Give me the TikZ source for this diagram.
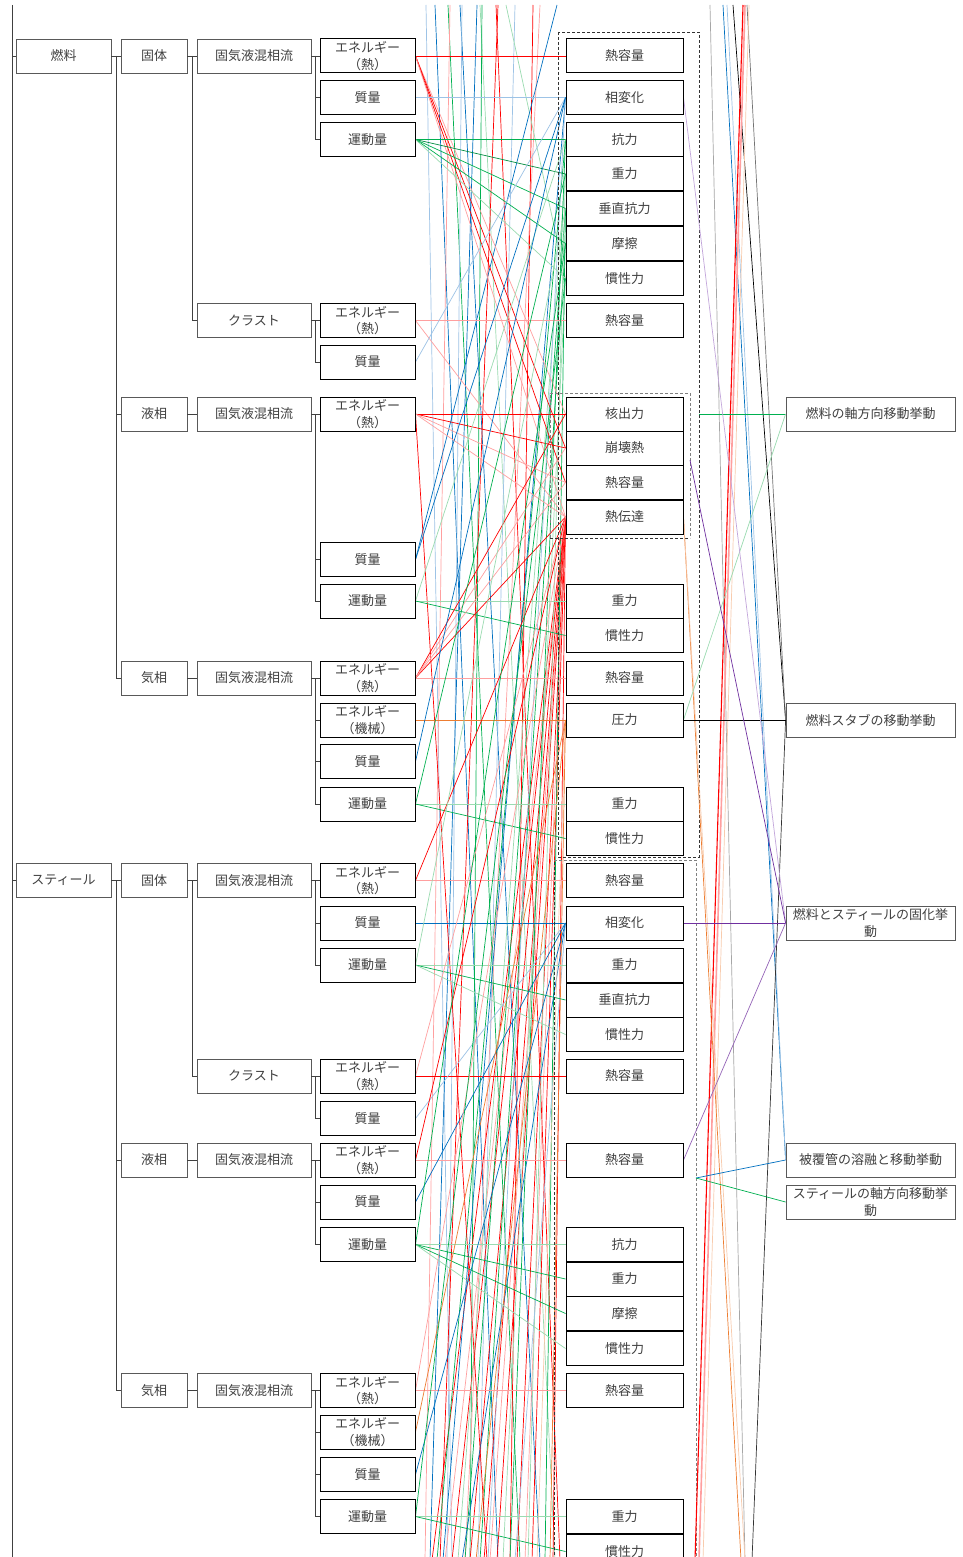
\documentclass[tikz,border=0pt]{standalone}
\usepackage{fontspec}
\usetikzlibrary{calc,backgrounds}
\newfontfamily\jp{Noto Sans CJK JP}
\definecolor{cRed}{HTML}{FF0000}
\definecolor{cPink}{HTML}{FF9F9F}
\definecolor{cGreen}{HTML}{00B050}
\definecolor{cLGreen}{HTML}{9ADBB0}
\definecolor{cBlue}{HTML}{0070C0}
\definecolor{cLBlue}{HTML}{9DC3E6}
\definecolor{cOrange}{HTML}{ED7D31}
\definecolor{cLOrange}{HTML}{F8CBAD}
\definecolor{cPurple}{HTML}{7030A0}
\definecolor{cLPurple}{HTML}{C3A6DB}
\definecolor{cGray}{HTML}{A6A6A6}
\definecolor{cText}{HTML}{404040}
\begin{document}
\begin{tikzpicture}[x=1pt,y=-1pt,
  box/.style={draw=black, line width=0.8pt, fill=white, minimum height=34pt,
    inner sep=1pt, font=\jp\fontsize{13}{16.5}\selectfont, text=cText, align=center},
  c1/.style={box, minimum width=95pt, draw=black!65},
  c2/.style={box, minimum width=66pt, draw=black!65},
  c3/.style={box, minimum width=114pt, draw=black!65},
  c4/.style={box, minimum width=95pt, line width=1pt},
  c5/.style={box, minimum width=117pt, line width=1pt},
  c6/.style={box, minimum width=169pt, draw=black!65},
  tree/.style={draw=black!75, line width=0.8pt},
  ln/.style={line width=0.7pt},
  frame/.style={dashed, dash pattern=on 3pt off 2pt, line width=0.7pt}
]
\useasboundingbox (0,0) rectangle (962,1557);

% ---------- fuel branch ----------
\node[c1] (fuel) at (63.5,56) {燃料};
\node[c2] (fS)  at (154,56) {固体};
\node[c3] (fSm) at (254,56) {固気液混相流};
\node[c4] (fSe) at (367.5,56) {エネルギー\\（熱）};
\node[c4] (fSq) at (367.5,97.5) {質量};
\node[c4] (fSp) at (367.5,139.5) {運動量};
\node[c3] (fC)  at (254,320.5) {クラスト};
\node[c4] (fCe) at (367.5,320.5) {エネルギー\\（熱）};
\node[c4] (fCq) at (367.5,362) {質量};
\node[c2] (fL)  at (154,414) {液相};
\node[c3] (fLm) at (254,414) {固気液混相流};
\node[c4] (fLe) at (367.5,414) {エネルギー\\（熱）};
\node[c4] (fLq) at (367.5,559.5) {質量};
\node[c4] (fLp) at (367.5,601) {運動量};
\node[c2] (fG)  at (154,678) {気相};
\node[c3] (fGm) at (254,678) {固気液混相流};
\node[c4] (fGe) at (367.5,678) {エネルギー\\（熱）};
\node[c4] (fGk) at (367.5,720) {エネルギー\\（機械）};
\node[c4] (fGq) at (367.5,761.5) {質量};
\node[c4] (fGp) at (367.5,804) {運動量};

% ---------- steel branch ----------
\node[c1] (steel) at (63.5,880.5) {スティール};
\node[c2] (sS)  at (154,880.5) {固体};
\node[c3] (sSm) at (254,880.5) {固気液混相流};
\node[c4] (sSe) at (367.5,880.5) {エネルギー\\（熱）};
\node[c4] (sSq) at (367.5,923) {質量};
\node[c4] (sSp) at (367.5,965) {運動量};
\node[c3] (sC)  at (254,1076) {クラスト};
\node[c4] (sCe) at (367.5,1076) {エネルギー\\（熱）};
\node[c4] (sCq) at (367.5,1118.5) {質量};
\node[c2] (sL)  at (154,1160) {液相};
\node[c3] (sLm) at (254,1160) {固気液混相流};
\node[c4] (sLe) at (367.5,1160) {エネルギー\\（熱）};
\node[c4] (sLq) at (367.5,1202) {質量};
\node[c4] (sLp) at (367.5,1244.5) {運動量};
\node[c2] (sG)  at (154,1390.5) {気相};
\node[c3] (sGm) at (254,1390.5) {固気液混相流};
\node[c4] (sGe) at (367.5,1390.5) {エネルギー\\（熱）};
\node[c4] (sGk) at (367.5,1432) {エネルギー\\（機械）};
\node[c4] (sGq) at (367.5,1474.5) {質量};
\node[c4] (sGp) at (367.5,1516.5) {運動量};

% ---------- phenomena column ----------
\node[c5] (rA1) at (624.5,56) {熱容量};
\node[c5] (rA2) at (624.5,97.5) {相変化};
\node[c5] (rA3) at (624.5,139.5) {抗力};
\node[c5] (rA4) at (624.5,174) {重力};
\node[c5] (rA5) at (624.5,208.5) {垂直抗力};
\node[c5] (rA6) at (624.5,243.5) {摩擦};
\node[c5] (rA7) at (624.5,278.5) {慣性力};
\node[c5] (rA8) at (624.5,320.5) {熱容量};
\node[c5] (rB1) at (624.5,414) {核出力};
\node[c5] (rB2) at (624.5,448) {崩壊熱};
\node[c5] (rB3) at (624.5,482.5) {熱容量};
\node[c5] (rB4) at (624.5,517) {熱伝達};
\node[c5] (rB5) at (624.5,601) {重力};
\node[c5] (rB6) at (624.5,635.5) {慣性力};
\node[c5] (rB7) at (624.5,678) {熱容量};
\node[c5] (rB8) at (624.5,720) {圧力};
\node[c5] (rB9) at (624.5,804) {重力};
\node[c5] (rB10) at (624.5,838.5) {慣性力};
\node[c5] (rC1) at (624.5,880.5) {熱容量};
\node[c5] (rC2) at (624.5,923) {相変化};
\node[c5] (rC3) at (624.5,965) {重力};
\node[c5] (rC4) at (624.5,1000) {垂直抗力};
\node[c5] (rC5) at (624.5,1034.5) {慣性力};
\node[c5] (rC6) at (624.5,1076) {熱容量};
\node[c5] (rC7) at (624.5,1160) {熱容量};
\node[c5] (rC8) at (624.5,1244.5) {抗力};
\node[c5] (rC9) at (624.5,1279) {重力};
\node[c5] (rC10) at (624.5,1313.5) {摩擦};
\node[c5] (rC11) at (624.5,1348.5) {慣性力};
\node[c5] (rC12) at (624.5,1390.5) {熱容量};
\node[c5] (rC13) at (624.5,1516.5) {重力};
\node[c5] (rC14) at (624.5,1551.5) {慣性力};

% ---------- behaviour column ----------
\node[c6] (o1) at (870.5,414) {燃料の軸方向移動挙動};
\node[c6] (o2) at (870.5,720) {燃料スタブの移動挙動};
\node[c6] (o3) at (870.5,923) {燃料とスティールの固化挙\\動};
\node[c6] (o4) at (870.5,1160) {被覆管の溶融と移動挙動};
\node[c6] (o5) at (870.5,1202) {スティールの軸方向移動挙\\動};

% ---------- tree connectors ----------
\coordinate (trunkTop) at (12,5);
\coordinate (trunkBot) at (12,1557);
\draw[tree] (trunkTop) -- (trunkBot);
\draw[tree] (fuel.west -| trunkTop) -- (fuel.west);
\draw[tree] (steel.west -| trunkTop) -- (steel.west);

\draw[tree] (fuel.east) -- (fS.west);
\draw[tree] ($(fuel.east)!0.5!(fS.west)$) |- (fL.west);
\draw[tree] ($(fuel.east)!0.5!(fS.west)$) |- (fG.west);
\draw[tree] (fS.east) -- (fSm.west);
\draw[tree] ($(fS.east)!0.5!(fSm.west)$) |- (fC.west);
\draw[tree] (fL.east) -- (fLm.west);
\draw[tree] (fG.east) -- (fGm.west);
\draw[tree] (fSm.east) -- (fSe.west);
\foreach \t in {fSq,fSp} \draw[tree] ($(fSm.east)!0.5!(fSe.west)$) |- (\t.west);
\draw[tree] (fC.east) -- (fCe.west);
\draw[tree] ($(fC.east)!0.5!(fCe.west)$) |- (fCq.west);
\draw[tree] (fLm.east) -- (fLe.west);
\foreach \t in {fLq,fLp} \draw[tree] ($(fLm.east)!0.5!(fLe.west)$) |- (\t.west);
\draw[tree] (fGm.east) -- (fGe.west);
\foreach \t in {fGk,fGq,fGp} \draw[tree] ($(fGm.east)!0.5!(fGe.west)$) |- (\t.west);

\draw[tree] (steel.east) -- (sS.west);
\draw[tree] ($(steel.east)!0.5!(sS.west)$) |- (sL.west);
\draw[tree] ($(steel.east)!0.5!(sS.west)$) |- (sG.west);
\draw[tree] (sS.east) -- (sSm.west);
\draw[tree] ($(sS.east)!0.5!(sSm.west)$) |- (sC.west);
\draw[tree] (sL.east) -- (sLm.west);
\draw[tree] (sG.east) -- (sGm.west);
\draw[tree] (sSm.east) -- (sSe.west);
\foreach \t in {sSq,sSp} \draw[tree] ($(sSm.east)!0.5!(sSe.west)$) |- (\t.west);
\draw[tree] (sC.east) -- (sCe.west);
\draw[tree] ($(sC.east)!0.5!(sCe.west)$) |- (sCq.west);
\draw[tree] (sLm.east) -- (sLe.west);
\foreach \t in {sLq,sLp} \draw[tree] ($(sLm.east)!0.5!(sLe.west)$) |- (\t.west);
\draw[tree] (sGm.east) -- (sGe.west);
\foreach \t in {sGk,sGq,sGp} \draw[tree] ($(sGm.east)!0.5!(sGe.west)$) |- (\t.west);

\begin{scope}[on background layer]
\fill[white] (0,0) rectangle (962,1557);

% pass-through lines of the crossing band
\foreach \n/\a/\b/\c in {1/426/452/cLBlue, 2/435/498/cBlue, 3/448/520/cGreen,
    4/450/425/cPink, 5/460/540/cBlue, 6/462/447/cLBlue, 7/477/430/cBlue,
    8/480/555/cLGreen, 9/482/470/cGreen, 10/496/560/cRed, 11/498/440/cRed,
    12/533/510/cRed, 13/540/465/cPink, 14/515/478/cLBlue} {
  \coordinate (top\n) at (\a,5);
  \coordinate (btm\n) at (\b,1560);
  \draw[ln,\c] (top\n) -- (btm\n);
}
\coordinate (top15) at (506,5);
\draw[ln,cLGreen] (top15) -- (rA7.west);
\coordinate (top16) at (557,5);
\draw[ln,cBlue] (top16) -- (fLq.east);

% lines rising from below the sheet
\foreach \n/\x/\c/\t in {1/432/cRed/rB4, 2/445/cPink/rB4, 3/452/cRed/rB4,
    4/470/cRed/rB4, 5/484/cRed/rB4, 6/490/cPink/rB4, 7/497/cRed/rB4,
    8/517/cRed/rB4, 9/525/cPink/rB4, 10/532/cRed/rB4, 11/553/cRed/rB4,
    12/437/cGreen/rA3, 13/458/cLGreen/rA4, 14/465/cGreen/rA5, 15/480/cGreen/rA6,
    16/503/cLGreen/rA7, 17/510/cGreen/rA3, 18/528/cLGreen/rA4, 19/545/cGreen/rA5,
    20/443/cBlue/rA2, 21/488/cLBlue/rA2, 22/462/cBlue/rC2, 23/515/cLBlue/rC2,
    24/476/cOrange/rB8, 25/537/cLOrange/rB8, 26/550/cOrange/rB8} {
  \coordinate (bot\n) at (\x,1560);
  \draw[ln,\c] (bot\n) -- (\t.west);
}

% fuel quantities to phenomena
\draw[ln,cRed] (fSe.east) -- (rA1.west);
\draw[ln,cPink] (fSe.east) -- (rB1.west);
\draw[ln,cRed] (fSe.east) -- (rB2.west);
\draw[ln,cRed] (fSe.east) -- (rB3.west);
\draw[ln,cPink] (fSe.east) -- (rB4.west);
\draw[ln,cLBlue] (fSq.east) -- (rA2.west);
\draw[ln,cGreen] (fSp.east) -- (rA3.west);
\draw[ln,cGreen!80!black] (fSp.east) -- (rA4.west);
\draw[ln,cGreen] (fSp.east) -- (rA5.west);
\draw[ln,cGreen] (fSp.east) -- (rA6.west);
\draw[ln,cLGreen] (fSp.east) -- (rA7.west);
\draw[ln,cPink] (fCe.east) -- (rA8.west);
\draw[ln,cPink] (fCe.east) -- (rB4.west);
\draw[ln,cLBlue] (fCq.east) -- (rA2.west);
\draw[ln,cRed] (fLe.east) -- (rB1.west);
\draw[ln,cRed] (fLe.east) -- (rB2.west);
\draw[ln,cPink] (fLe.east) -- (rB3.west);
\draw[ln,cPink] (fLe.east) -- (rB4.west);
\coordinate (btmLe) at (487,1560);
\draw[ln,cRed] (fLe.east) -- (btmLe);
\draw[ln,cBlue] (fLq.east) -- (rA2.west);
\draw[ln,cLGreen] (fLp.east) -- (rB5.west);
\draw[ln,cGreen] (fLp.east) -- (rB6.west);
\draw[ln,cLGreen] (fLp.east) -- (rA3.west);
\draw[ln,cPink] (fGe.east) -- (rB7.west);
\draw[ln,cRed] (fGe.east) -- (rB1.west);
\draw[ln,cPink] (fGe.east) -- (rB2.west);
\draw[ln,cRed] (fGe.east) -- (rB4.west);
\draw[ln,cPink] (fGe.east) -- (rB3.west);
\draw[ln,cOrange] (fGk.east) -- (rB8.west);
\draw[ln,cBlue] (fGq.east) -- (rA2.west);
\draw[ln,cLGreen] (fGp.east) -- (rB9.west);
\draw[ln,cGreen] (fGp.east) -- (rB10.west);
\draw[ln,cGreen] (fGp.east) -- (rA4.west);

% steel quantities to phenomena
\draw[ln,cPink] (sSe.east) -- (rC1.west);
\draw[ln,cRed] (sSe.east) -- (rB4.west);
\draw[ln,cBlue] (sSq.east) -- (rC2.west);
\draw[ln,cLGreen] (sSp.east) -- (rC3.west);
\draw[ln,cGreen] (sSp.east) -- (rC4.west);
\draw[ln,cLGreen] (sSp.east) -- (rC5.west);
\draw[ln,cLGreen] (sSp.east) -- (rA5.west);
\draw[ln,cRed] (sCe.east) -- (rC6.west);
\draw[ln,cPink] (sCe.east) -- (rB4.west);
\draw[ln,cLBlue] (sCq.east) -- (rC2.west);
\draw[ln,cPink] (sLe.east) -- (rC7.west);
\draw[ln,cRed] (sLe.east) -- (rB4.west);
\draw[ln,cBlue] (sLq.east) -- (rC2.west);
\draw[ln,cLGreen] (sLp.east) -- (rC8.west);
\draw[ln,cGreen] (sLp.east) -- (rC9.west);
\draw[ln,cGreen] (sLp.east) -- (rC10.west);
\draw[ln,cLGreen] (sLp.east) -- (rC11.west);
\draw[ln,cGreen] (sLp.east) -- (rA6.west);
\draw[ln,cPink] (sGe.east) -- (rC12.west);
\draw[ln,cPink] (sGe.east) -- (rB4.west);
\draw[ln,cOrange] (sGk.east) -- (rB8.west);
\draw[ln,cBlue] (sGq.east) -- (rC2.west);
\draw[ln,cLGreen] (sGp.east) -- (rC13.west);
\draw[ln,cGreen] (sGp.east) -- (rC14.west);
\draw[ln,cGreen] (sGp.east) -- (rA7.west);

% dashed groupings
\draw[frame, black!80] (558,32) rectangle (699,857);
\draw[frame, gray] (550,538) -- (550,393) -- (690,393) -- (690,538);
\draw[frame, black!80] (550,538) -- (690,538);
\draw[frame, black!80] (554,1560) -- (554,860);
\draw[frame, gray] (554,860) -- (696,860) -- (696,1560);
\coordinate (grpA) at (699,414);
\coordinate (grpB) at (690,460);
\coordinate (grpC) at (696,1178);

% long lines of the right strip
\coordinate (rt1) at (710,5);   \coordinate (rb1) at (745,1560);
\draw[ln,cGray] (rt1) -- (rb1);
\coordinate (rt2) at (723,5);
\draw[ln,cBlue] (rt2) -- (o4.west);
\coordinate (rt3) at (727,5);
\draw[ln,cLBlue] (rt3) -- (o4.west);
\coordinate (rt4) at (733,5);
\draw[ln,black] (rt4) -- (o2.west);
\coordinate (rt5) at (747,5);
\draw[ln,black!55] (rt5) -- (o2.west);
\coordinate (rt6) at (745,5);   \coordinate (rb6) at (699,1560);
\draw[ln,cPink,line width=1.6pt] (rt6) -- (rb6);
\coordinate (rt7) at (743,5);   \coordinate (rb7) at (695,1560);
\draw[ln,cRed,line width=1.1pt] (rt7) -- (rb7);
\coordinate (rt8) at (749,5);   \coordinate (rb8) at (703,1560);
\draw[ln,cLOrange] (rt8) -- (rb8);
\coordinate (rb9) at (741,1560);
\draw[ln,cOrange] (rB4.east) -- (rb9);
\coordinate (rb10) at (745,1560);
\draw[ln,cLOrange] (rB4.east) -- (rb10);
\coordinate (rb11) at (752,1560);
\draw[ln,black!80] (o2.west) -- (rb11);

% links to the behaviour column
\draw[ln,cGreen] (grpA) -- (o1.west);
\draw[ln,cLGreen] (o1.west) -- (rB8.east);
\draw[ln,black] (rB8.east) -- (o2.west);
\draw[ln,cLPurple] (rA2.east) -- (o3.west);
\draw[ln,cPurple] (grpB) -- (o3.west);
\draw[ln,cPurple] (rC2.east) -- (o3.west);
\draw[ln,cPurple!75] (rC7.east) -- (o3.west);
\draw[ln,cBlue] (grpC) -- (o4.west);
\draw[ln,cGreen] (grpC) -- (o5.west);
\end{scope}
\end{tikzpicture}
\end{document}
